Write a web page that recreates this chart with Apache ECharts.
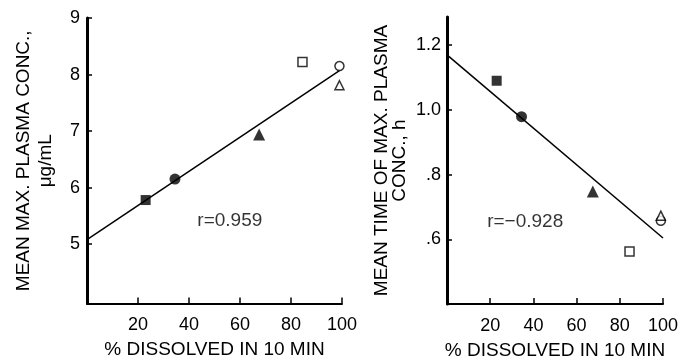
<!DOCTYPE html>
<html>
<head>
<meta charset="utf-8">
<script src="https://cdn.jsdelivr.net/npm/echarts@6/dist/echarts.min.js"></script>
<style>
  html, body { margin: 0; padding: 0; background: #fff; }
  #chart { width: 681px; height: 364px; }
</style>
</head>
<body>
<div id="chart"></div>
<script>
// % dissolved in 10 min, one entry per formulation
var dissolved = [23, 34.5, 67.5, 84.5, 99, 99];
// marker per formulation: filled square, filled circle, filled triangle, open square, open circle, open triangle
var markers = ['rect', 'circle', 'triangle', 'rect', 'circle', 'triangle'];
var filled = [true, true, true, false, false, false];
// left panel: mean max. plasma conc. (ug/mL)
var cmax = [5.78, 6.15, 6.94, 8.22, 8.15, 7.81];
// right panel: mean time of max. plasma conc. (h)
var tmax = [1.09, 0.979, 0.748, 0.562, 0.657, 0.673];
// regression lines (end points)
var cmaxFit = [[0, 5.08], [99, 8.07]];
var tmaxFit = [[0, 1.17], [100, 0.604]];
var xTicks = [20, 40, 60, 80, 100];
var cmaxTicks = [5, 6, 7, 8, 9];
var tmaxTicks = [0.6, 0.8, 1.0, 1.2];
var cmaxR = 'r=0.959';
var tmaxR = 'r=\u22120.928';

var FONT = 'Liberation Sans';
var chart = echarts.init(document.getElementById('chart'));

function pointData(ys) {
  return dissolved.map(function (x, i) {
    var sz = markers[i] == 'triangle' ? 12 : (markers[i] == 'rect' ? 10 : 11);
    if (!filled[i]) sz = 9;
    return {
      value: [x, ys[i]],
      symbol: markers[i],
      symbolSize: sz,
      itemStyle: filled[i]
        ? { color: '#000', borderWidth: 0 }
        : { color: '#fff', borderColor: '#000', borderWidth: 1.5 }
    };
  });
}

function xAxisOf(idx) {
  return {
    gridIndex: idx,
    type: 'value',
    min: 0,
    max: 100,
    name: '% DISSOLVED IN 10 MIN',
    nameLocation: 'middle',
    nameGap: 37,
    nameTextStyle: { color: '#000', fontSize: 19, fontFamily: FONT },
    splitLine: { show: false },
    axisLine: { lineStyle: { color: '#000', width: 2 } },
    axisTick: { inside: true, length: 6, lineStyle: { color: '#000', width: 1.5 }, customValues: xTicks },
    axisLabel: { color: '#000', fontSize: 18, fontFamily: FONT, margin: 13, customValues: xTicks }
  };
}

var option = {
  backgroundColor: '#fff',
  animation: false,
  grid: [
    { left: 87, right: 339, top: 18, bottom: 60.5, containLabel: false, outerBoundsMode: 'none' },
    { left: 447, right: 18, top: 17, bottom: 60, containLabel: false, outerBoundsMode: 'none' }
  ],
  xAxis: [xAxisOf(0), xAxisOf(1)],
  yAxis: [
    {
      gridIndex: 0,
      type: 'value',
      min: 3.95,
      max: 9,
      name: 'MEAN MAX. PLASMA CONC.,\n\u03bcg/mL',
      nameLocation: 'middle',
      nameGap: 30,
      nameRotate: 90,
      nameTextStyle: { color: '#000', fontSize: 19, fontFamily: FONT, lineHeight: 22, align: 'center' },
      splitLine: { show: false },
      axisLine: { lineStyle: { color: '#000', width: 3 } },
      axisTick: { inside: true, length: 5, lineStyle: { color: '#000', width: 1.5 }, customValues: cmaxTicks },
      axisLabel: { color: '#000', fontSize: 18, fontFamily: FONT, margin: 7, customValues: cmaxTicks }
    },
    {
      gridIndex: 1,
      type: 'value',
      min: 0.4,
      max: 1.287,
      name: 'MEAN TIME OF MAX. PLASMA\nCONC., h',
      nameLocation: 'middle',
      nameGap: 38,
      nameRotate: 90,
      nameTextStyle: { color: '#000', fontSize: 19, fontFamily: FONT, lineHeight: 18, align: 'center' },
      splitLine: { show: false },
      axisLine: { lineStyle: { color: '#000', width: 3 } },
      axisTick: { inside: true, length: 5, lineStyle: { color: '#000', width: 1.5 }, customValues: tmaxTicks },
      axisLabel: {
        color: '#000', fontSize: 18, fontFamily: FONT, margin: 6, customValues: tmaxTicks,
        formatter: function (v) {
          var s = v.toFixed(1);
          return v < 1 ? s.replace(/^0/, '') : s;
        }
      }
    }
  ],
  series: [
    {
      type: 'line', xAxisIndex: 0, yAxisIndex: 0, data: cmaxFit,
      symbol: 'none', lineStyle: { color: '#000', width: 1.5 }, z: 1
    },
    {
      type: 'scatter', xAxisIndex: 0, yAxisIndex: 0, data: pointData(cmax), z: 3
    },
    {
      type: 'scatter', xAxisIndex: 0, yAxisIndex: 0, symbolSize: 0,
      data: [[56, 5.42]],
      label: { show: true, position: 'inside', formatter: cmaxR, color: '#000', fontSize: 19, fontFamily: FONT }
    },
    {
      type: 'line', xAxisIndex: 1, yAxisIndex: 1, data: tmaxFit,
      symbol: 'none', lineStyle: { color: '#000', width: 1.5 }, z: 1
    },
    {
      type: 'scatter', xAxisIndex: 1, yAxisIndex: 1, data: pointData(tmax), z: 3
    },
    {
      type: 'scatter', xAxisIndex: 1, yAxisIndex: 1, symbolSize: 0,
      data: [[36.2, 0.654]],
      label: { show: true, position: 'inside', formatter: tmaxR, color: '#000', fontSize: 19, fontFamily: FONT }
    }
  ]
};
chart.setOption(option);
</script>
</body>
</html>
